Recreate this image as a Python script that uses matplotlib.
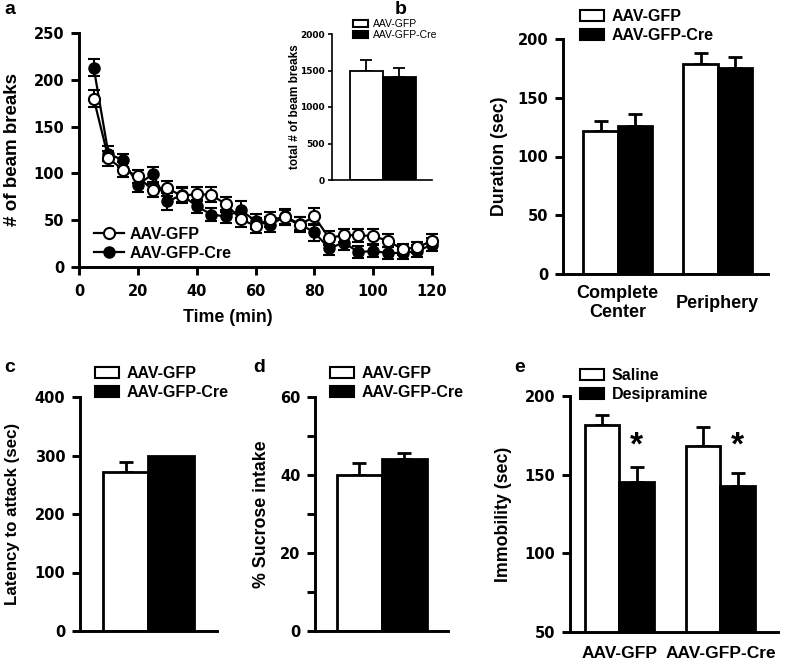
import matplotlib
matplotlib.use("Agg")
import matplotlib.pyplot as plt
from matplotlib.patches import Patch
from matplotlib.lines import Line2D

plt.rcParams["font.family"] = ["Liberation Sans", "DejaVu Sans"]
plt.rcParams["font.weight"] = "bold"
plt.rcParams["axes.labelweight"] = "bold"

# panel a: beam breaks over time
time_min = [5, 10, 15, 20, 25, 30, 35, 40, 45, 50, 55, 60, 65, 70, 75, 80, 85, 90, 95, 100, 105, 110, 115, 120]
gfp_breaks = [180, 116, 104, 97, 82, 84, 76, 78, 77, 67, 51, 44, 51, 53, 45, 54, 31, 34, 34, 33, 28, 19, 21, 28]
gfp_err = [9, 8, 8, 7, 7, 8, 8, 8, 8, 8, 8, 8, 8, 8, 8, 9, 7, 7, 7, 8, 7, 6, 6, 7]
cre_breaks = [213, 121, 114, 88, 99, 70, 77, 65, 56, 54, 61, 49, 45, 54, 46, 37, 20, 26, 16, 17, 15, 15, 17, 24]
cre_err = [9, 8, 7, 8, 8, 9, 8, 7, 7, 7, 9, 8, 8, 8, 7, 9, 7, 8, 6, 6, 6, 6, 6, 7]

# inset: total beam breaks
total_breaks = [1500, 1410]
total_err = [150, 130]

# panel b: duration in zones
zones = ["Complete\nCenter", "Periphery"]
dur_gfp = [122, 179]
dur_gfp_err = [8.5, 9]
dur_cre = [126, 175]
dur_cre_err = [10, 10]

# panel c: latency to attack
latency = [271, 300]
latency_err = [18, 0]

# panel d: sucrose intake
sucrose = [40, 44.2]
sucrose_err = [3, 1.5]

# panel e: forced swim immobility
groups_e = ["AAV-GFP", "AAV-GFP-Cre"]
immob_saline = [181.5, 168.5]
immob_saline_err = [6.5, 12]
immob_desi = [145.5, 143]
immob_desi_err = [9.5, 8]

W, H = 786, 664
fig = plt.figure(figsize=(W / 100, H / 100), dpi=100)


def add_ax(left, right, top, bottom):
    ax = fig.add_axes([left / W, 1 - bottom / H, (right - left) / W, (bottom - top) / H])
    ax._px = (left, right, top, bottom)
    return ax


def style(ax, fs=10.5, lw=2.1, tl=6):
    for s in ["top", "right"]:
        ax.spines[s].set_visible(False)
    for s in ["left", "bottom"]:
        ax.spines[s].set_linewidth(lw)
    ax.tick_params(direction="out", width=lw, length=tl, labelsize=fs)
    ax.tick_params(axis="y", pad=4.5)
    ax.tick_params(axis="x", pad=6)
    for lab in ax.get_xticklabels() + ax.get_yticklabels():
        lab.set_family("DejaVu Sans")
        lab.set_fontweight("bold")


def ylabel_at(ax, text, xpix, fs=12.8):
    left, right, top, bottom = ax._px
    ax.set_ylabel(text, fontsize=fs, va="center")
    ax.yaxis.set_label_coords((xpix - left) / (right - left), 0.5)


def bar_legend(ax, labels, x, y, fs=11.5, weight="bold", hl=1.5, hh=0.65, sp=0.25):
    handles = [Patch(facecolor="white", edgecolor="black", linewidth=1.5),
               Patch(facecolor="black", edgecolor="black", linewidth=1.5)]
    ax.legend(handles, labels, loc="upper left", bbox_to_anchor=(x / W, 1 - y / H),
              bbox_transform=fig.transFigure, frameon=False, handlelength=hl,
              handleheight=hh, handletextpad=0.5, labelspacing=sp, borderpad=0,
              borderaxespad=0, prop={"size": fs, "weight": weight})


def up_bar(ax, x, h, err, color, w=1.0, lw=2, cap=5):
    ax.bar(x, h, width=w, color=color, edgecolor="black", linewidth=lw, zorder=2)
    if err > 0:
        ax.errorbar(x, h, yerr=[[0], [err]], fmt="none", ecolor="black",
                    elinewidth=lw, capsize=cap, capthick=lw, zorder=1)


# ---- panel a
ax = add_ax(79, 432, 33, 267)
ax.errorbar(time_min, cre_breaks, yerr=cre_err, color="black", lw=1.6, marker="o",
            ms=8, mfc="black", mec="black", ecolor="black", elinewidth=1.5,
            capsize=4, capthick=1.5, clip_on=False, zorder=3)
ax.errorbar(time_min, gfp_breaks, yerr=gfp_err, color="black", lw=1.6, marker="o",
            ms=8, mfc="white", mec="black", mew=1.5, ecolor="black", elinewidth=1.5,
            capsize=4, capthick=1.5, clip_on=False, zorder=3)
ax.set_xlim(0, 120)
ax.set_ylim(0, 250)
ax.set_xticks(range(0, 121, 20))
ax.set_yticks(range(0, 251, 50))
ax.set_xlabel("Time (min)", fontsize=12.8, va="center")
ax.xaxis.set_label_coords((228 - 79) / 353, (267 - 318) / 234)
ylabel_at(ax, "# of beam breaks", 13, fs=13.5)
style(ax)
h_gfp = Line2D([], [], color="black", lw=1.6, marker="o", ms=8, mfc="white", mec="black", mew=1.5)
h_cre = Line2D([], [], color="black", lw=1.6, marker="o", ms=8, mfc="black", mec="black")
ax.legend([h_gfp, h_cre], ["AAV-GFP", "AAV-GFP-Cre"], loc="upper left",
          bbox_to_anchor=(94 / W, 1 - 227 / H), bbox_transform=fig.transFigure,
          frameon=False, handlelength=1.9, handletextpad=0.3, labelspacing=0.25,
          borderpad=0, borderaxespad=0, prop={"size": 11.5, "weight": "bold"})

# inset
axi = add_ax(332, 432, 34, 180)
up_bar(axi, 0, total_breaks[0], total_err[0], "white", lw=1.3, cap=4)
up_bar(axi, 1, total_breaks[1], total_err[1], "black", lw=1.3, cap=4)
axi.set_xlim(-1.045, 1.985)
axi.set_ylim(0, 2000)
axi.set_yticks(range(0, 2001, 500))
axi.set_xticks([])
ylabel_at(axi, "total # of beam breaks", 295, fs=8.5)
style(axi, fs=6.5, lw=1.2, tl=3)
axi.tick_params(axis="y", pad=2)
bar_legend(axi, ["AAV-GFP", "AAV-GFP-Cre"], 353, 19, fs=7.5, weight="normal",
           hl=1.4, hh=0.6, sp=0.1)

# ---- panel b
ax = add_ax(563, 768, 39, 274)
g = [0, 2.9]
for i in range(2):
    up_bar(ax, g[i] - 0.5, dur_gfp[i], dur_gfp_err[i], "white")
    up_bar(ax, g[i] + 0.5, dur_cre[i], dur_cre_err[i], "black")
ax.set_xlim(-1.587, 4.355)
ax.set_ylim(0, 200)
ax.set_yticks(range(0, 201, 50))
ax.set_xticks(g)
ax.set_xticklabels(zones)
ylabel_at(ax, "Duration (sec)", 500)
style(ax)
ax.tick_params(axis="x", length=0, pad=21)
for lab in ax.get_xticklabels():
    lab.set_va("center")
    lab.set_family("Liberation Sans")
    lab.set_fontsize(13)
bar_legend(ax, ["AAV-GFP", "AAV-GFP-Cre"], 580, 9)

# ---- panel c
ax = add_ax(80, 217, 397, 631)
up_bar(ax, 0, latency[0], latency_err[0], "white")
up_bar(ax, 1, latency[1], latency_err[1], "black")
ax.set_xlim(-1.0, 2.01)
ax.set_ylim(0, 400)
ax.set_yticks(range(0, 401, 100))
ax.set_xticks([])
ylabel_at(ax, "Latency to attack (sec)", 13, fs=12.2)
style(ax)
bar_legend(ax, ["AAV-GFP", "AAV-GFP-Cre"], 95, 366)

# ---- panel d
ax = add_ax(315, 448, 397, 631)
up_bar(ax, 0, sucrose[0], sucrose_err[0], "white")
up_bar(ax, 1, sucrose[1], sucrose_err[1], "black")
ax.set_xlim(-0.99, 1.97)
ax.set_ylim(0, 60)
ax.set_yticks(range(0, 61, 10))
ax.set_yticklabels(["0", "", "20", "", "40", "", "60"])
ax.set_xticks([])
ylabel_at(ax, "% Sucrose intake", 262)
style(ax)
bar_legend(ax, ["AAV-GFP", "AAV-GFP-Cre"], 330, 366)

# ---- panel e
ax = add_ax(570, 778, 396, 632)
ge = [0, 2.93]
for i in range(2):
    up_bar(ax, ge[i] - 0.5, immob_saline[i], immob_saline_err[i], "white")
    up_bar(ax, ge[i] + 0.5, immob_desi[i], immob_desi_err[i], "black")
    ax.text(ge[i] + 0.5, 168, "*", ha="center", va="center", fontsize=24, fontweight="bold")
ax.set_xlim(-1.43, 4.60)
ax.set_ylim(50, 200)
ax.set_yticks(range(50, 201, 50))
ax.set_xticks(ge)
ax.set_xticklabels(groups_e)
ylabel_at(ax, "Immobility (sec)", 503)
style(ax)
ax.tick_params(axis="x", length=0, pad=10)
for lab in ax.get_xticklabels():
    lab.set_family("Liberation Sans")
    lab.set_fontsize(12.5)
bar_legend(ax, ["Saline", "Desipramine"], 580, 368)

# panel letters
for letter, x, y in [("a", 4, 10), ("b", 395, 10), ("c", 4, 367), ("d", 253, 367), ("e", 514, 367)]:
    fig.text(x / W, 1 - y / H, letter, fontsize=14, fontweight="bold", va="center")

fig.savefig("out.png", dpi=100)
